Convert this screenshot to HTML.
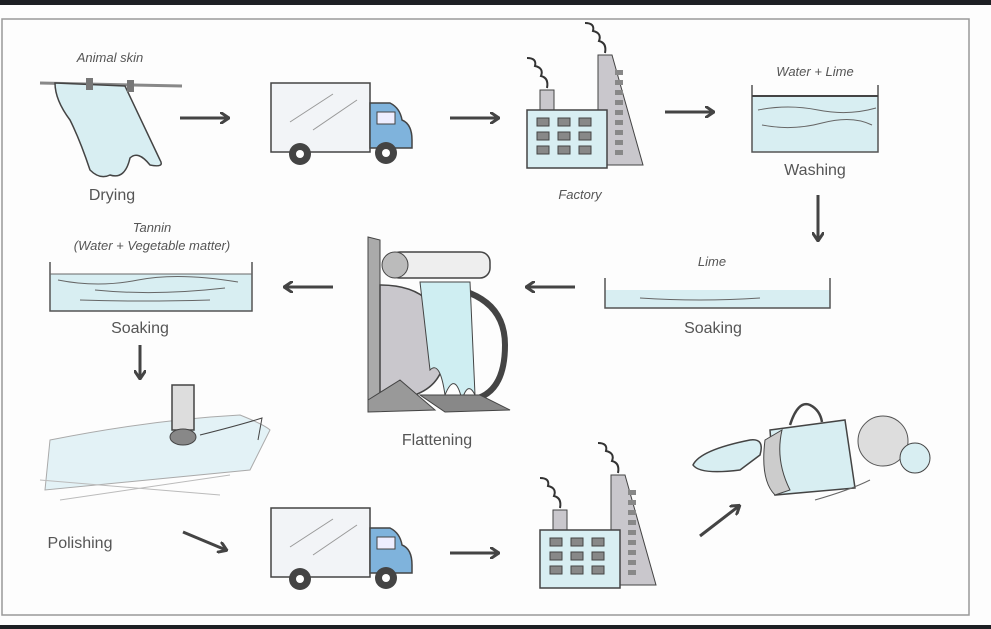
<!DOCTYPE html>
<html><head><meta charset="utf-8"><style>
html,body{margin:0;padding:0;background:#fff;}
svg{display:block}
text{font-family:"Liberation Sans",sans-serif;fill:#555}
.it{font-style:italic;font-size:13px}
.lb{font-size:16px}
</style></head><body>
<svg width="991" height="629" viewBox="0 0 991 629" xmlns="http://www.w3.org/2000/svg">
<defs>
<marker id="ah" markerWidth="10" markerHeight="12" refX="8" refY="6" orient="auto" markerUnits="userSpaceOnUse"><path d="M0,0 L9,6 L0,12" fill="none" stroke="#444" stroke-width="3"/></marker>
</defs>
<rect width="991" height="629" fill="#fdfdfd"/>
<rect x="0" y="0" width="991" height="5" fill="#1d1f23"/>
<rect x="0" y="625" width="991" height="4" fill="#1d1f23"/>
<rect x="2" y="19" width="967" height="596" fill="none" stroke="#999" stroke-width="1.5"/>

<g stroke="#444" stroke-width="3" fill="none" marker-end="url(#ah)">
<line x1="180" y1="118" x2="228" y2="118"/>
<line x1="450" y1="118" x2="498" y2="118"/>
<line x1="665" y1="112" x2="713" y2="112"/>
<line x1="818" y1="195" x2="818" y2="240"/>
<line x1="575" y1="287" x2="527" y2="287"/>
<line x1="333" y1="287" x2="285" y2="287"/>
<line x1="140" y1="345" x2="140" y2="378"/>
<line x1="183" y1="532" x2="226" y2="550"/>
<line x1="450" y1="553" x2="498" y2="553"/>
<line x1="700" y1="536" x2="739" y2="506"/>
</g>

<!-- drying -->
<text class="it" x="110" y="62" text-anchor="middle">Animal skin</text>
<line x1="40" y1="83" x2="182" y2="86" stroke="#888" stroke-width="3"/>
<path d="M55,83 L125,86 L160,160 Q165,168 150,165 Q138,150 130,158 Q125,180 110,175 Q100,180 90,170 Q80,140 70,120 Q55,100 55,83Z" fill="#d8eef2" stroke="#444" stroke-width="1.5"/>
<rect x="86" y="78" width="7" height="12" fill="#777"/><rect x="127" y="80" width="7" height="12" fill="#777"/>
<text class="lb" x="112" y="200" text-anchor="middle">Drying</text>

<!-- truck 1 -->
<g id="truck">
<rect x="271" y="83" width="99" height="69" fill="#f2f4f7" stroke="#444" stroke-width="1.5"/>
<line x1="290" y1="122" x2="333" y2="94" stroke="#999"/><line x1="313" y1="130" x2="357" y2="100" stroke="#999"/>
<path d="M370,103 L390,103 Q400,108 402,120 Q412,124 412,140 L412,148 L370,148Z" fill="#7fb3dc" stroke="#444" stroke-width="1.5"/>
<rect x="377" y="112" width="18" height="12" fill="#eef" stroke="#444"/>
<circle cx="300" cy="154" r="11" fill="#444"/><circle cx="300" cy="154" r="4" fill="#fff"/>
<circle cx="386" cy="153" r="11" fill="#444"/><circle cx="386" cy="153" r="4" fill="#fff"/>
</g>
<use href="#truck" transform="translate(0,425)"/>

<!-- factory 1 -->
<g id="fac">
<path d="M547,88 q2,-10 -6,-12 q3,-8 -6,-10 q2,-8 -8,-8 M605,53 q2,-10 -6,-12 q3,-8 -6,-10 q2,-8 -8,-8" stroke="#333" stroke-width="2" fill="none"/>
<rect x="540" y="90" width="14" height="25" fill="#c9c7cc" stroke="#444"/>
<path d="M598,55 L612,55 L643,165 L598,165Z" fill="#c9c7cc" stroke="#444"/>
<rect x="527" y="110" width="80" height="58" fill="#d8eef2" stroke="#444" stroke-width="1.5"/>
<g fill="#888" stroke="#444"><rect x="537" y="118" width="12" height="8"/><rect x="558" y="118" width="12" height="8"/><rect x="579" y="118" width="12" height="8"/><rect x="537" y="132" width="12" height="8"/><rect x="558" y="132" width="12" height="8"/><rect x="579" y="132" width="12" height="8"/><rect x="537" y="146" width="12" height="8"/><rect x="558" y="146" width="12" height="8"/><rect x="579" y="146" width="12" height="8"/></g>
<g fill="#888"><rect x="615" y="70" width="8" height="5"/><rect x="615" y="80" width="8" height="5"/><rect x="615" y="90" width="8" height="5"/><rect x="615" y="100" width="8" height="5"/><rect x="615" y="110" width="8" height="5"/><rect x="615" y="120" width="8" height="5"/><rect x="615" y="130" width="8" height="5"/><rect x="615" y="140" width="8" height="5"/><rect x="615" y="150" width="8" height="5"/></g>
</g>
<text class="it" x="580" y="199" text-anchor="middle">Factory</text>
<use href="#fac" transform="translate(13,420)"/>

<!-- washing -->
<text class="it" x="815" y="76" text-anchor="middle">Water + Lime</text>
<rect x="752" y="96" width="126" height="56" fill="#d8eef2"/>
<path d="M752,85 L752,152 L878,152 L878,85" fill="none" stroke="#555" stroke-width="1.5"/>
<path d="M758,110 q30,-6 60,0 t58,-2 M762,125 q30,6 60,-2 t50,2" stroke="#666" fill="none"/>
<line x1="752" y1="96" x2="878" y2="96" stroke="#444" stroke-width="2"/>
<text class="lb" x="815" y="175" text-anchor="middle">Washing</text>

<!-- lime soaking -->
<text class="it" x="712" y="266" text-anchor="middle">Lime</text>
<rect x="605" y="290" width="225" height="18" fill="#d8eef2"/>
<path d="M605,278 L605,308 L830,308 L830,278" fill="none" stroke="#555" stroke-width="1.5"/>
<path d="M640,298 q60,4 120,0" stroke="#666" fill="none"/>
<text class="lb" x="713" y="333" text-anchor="middle">Soaking</text>

<!-- tannin soaking -->
<text class="it" x="152" y="232" text-anchor="middle">Tannin</text>
<text class="it" x="152" y="250" text-anchor="middle">(Water + Vegetable matter)</text>
<rect x="50" y="274" width="202" height="37" fill="#d8eef2"/>
<path d="M50,262 L50,311 L252,311 L252,262" fill="none" stroke="#555" stroke-width="1.5"/>
<path d="M58,280 q40,8 80,0 t100,2 M95,290 q60,6 130,-2 M80,300 q60,2 130,0" stroke="#666" fill="none"/>
<line x1="50" y1="274" x2="252" y2="274" stroke="#666"/>
<text class="lb" x="140" y="333" text-anchor="middle">Soaking</text>

<!-- flattening -->
<path d="M368,237 L380,240 L380,400 L368,400Z" fill="#aaa" stroke="#444"/>
<rect x="390" y="252" width="100" height="26" rx="10" fill="#eee" stroke="#444" stroke-width="1.5"/>
<circle cx="395" cy="265" r="13" fill="#bbb" stroke="#444"/>
<path d="M380,285 Q445,285 445,350 Q445,400 380,400Z" fill="#c9c7cc" stroke="#444" stroke-width="1.5"/>
<path d="M430,285 Q505,290 505,345 Q505,395 470,400" fill="none" stroke="#444" stroke-width="6"/>
<path d="M420,282 L470,282 L475,395 Q468,380 462,400 Q455,370 445,395 Q440,360 430,370Z" fill="#cfeef2" stroke="#444"/>
<path d="M368,400 L400,380 L435,410 L368,412Z" fill="#999" stroke="#444"/>
<path d="M420,395 L480,395 L510,410 L445,412Z" fill="#888" stroke="#444"/>
<text class="lb" x="437" y="445" text-anchor="middle">Flattening</text>

<!-- polishing -->
<path d="M50,440 Q150,420 240,415 Q265,425 270,430 L250,470 Q150,480 45,490Z" fill="#e3f2f6" stroke="#aaa"/>
<path d="M40,480 L220,495 M60,500 L230,475" stroke="#bbb"/>
<rect x="172" y="385" width="22" height="45" fill="#ddd" stroke="#444" stroke-width="1.5"/>
<ellipse cx="183" cy="437" rx="13" ry="8" fill="#888" stroke="#444"/>
<path d="M200,435 Q240,425 262,418 L258,440" fill="none" stroke="#444"/>
<text class="lb" x="80" y="548" text-anchor="middle">Polishing</text>

<!-- products -->
<path d="M693,465 Q700,450 750,440 Q765,438 760,455 L740,470 Q700,475 693,465Z" fill="#d8eef2" stroke="#444" stroke-width="1.5"/>
<path d="M770,430 L845,420 L855,488 L775,495Z" fill="#d8eef2" stroke="#444" stroke-width="1.5"/>
<path d="M765,440 Q760,480 775,495 L790,490 Q775,460 782,430Z" fill="#ccc" stroke="#444"/>
<path d="M790,425 Q798,400 810,405 Q820,410 822,422" fill="none" stroke="#444" stroke-width="2.5"/>
<circle cx="883" cy="441" r="25" fill="#ddd" stroke="#555"/>
<circle cx="915" cy="458" r="15" fill="#d8eef2" stroke="#444"/>
<path d="M815,500 Q850,490 870,480" fill="none" stroke="#666"/>
</svg>
</body></html>
